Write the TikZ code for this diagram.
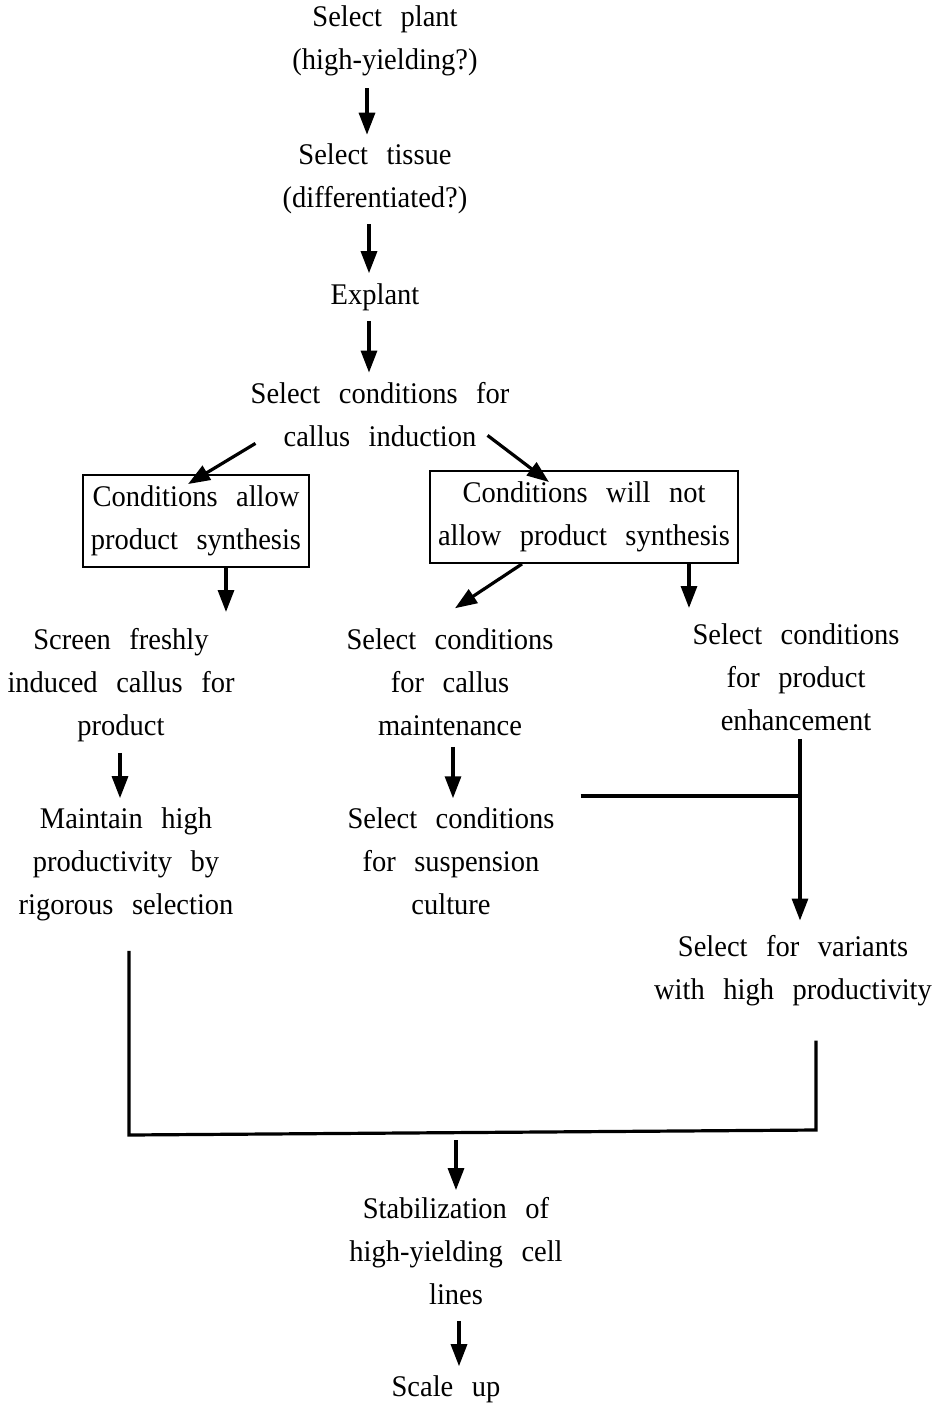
\documentclass[tikz,border=0pt]{standalone}
\usepackage{fontspec}
\setmainfont{Liberation Serif}[FakeStretch=0.95,WordSpace=2.6]
\usetikzlibrary{arrows.meta}
\tikzset{
  txt/.style={align=center, inner sep=0pt, font=\fontsize{30}{43}\selectfont},
  boxed/.style={txt, draw, line width=1.6pt, inner xsep=8pt, inner ysep=11pt},
  conn/.style={line width=3.2pt},
  arr/.style={conn, -{Triangle[length=22pt,width=16pt]}},
}
\begin{document}
\begin{tikzpicture}[x=1pt, y=-1pt]
  \useasboundingbox (0,0) rectangle (939,1403);
  %
  \node[txt] (plant)    at (385,41)   {Select plant\\(high-yielding?)};          % top column
  \node[txt] (tissue)   at (375,179)  {Select tissue\\(differentiated?)};
  \node[txt] (explant)  at (375,297)  {Explant};
  \node[txt] (induct)   at (380,415)  {Select conditions for\\callus induction};
  %
  \node[boxed] (allow)    at (196,521) {Conditions allow\\product synthesis};     % boxes
  \node[boxed] (notallow) at (584,517) {Conditions will not\\allow product synthesis};
  %
  \node[txt] (screen)   at (121,685)  {Screen freshly\\induced callus for\\product};   % left
  \node[txt] (rigor)    at (126,864)  {Maintain high\\productivity by\\rigorous selection};
  %
  \node[txt] (maint)    at (450,682)  {Select conditions\\for callus\\maintenance};   % middle
  \node[txt] (susp)     at (451,861)  {Select conditions\\for suspension\\culture};
  %
  \node[txt] (enhance)  at (796,677)  {Select conditions\\for product\\enhancement};  % right
  \node[txt] (variants) at (793,971)  {Select for variants\\with high productivity};
  %
  \node[txt] (stab)     at (456,1251) {Stabilization of\\high-yielding cell\\lines};  % bottom
  \node[txt] (scale)    at (446,1389) {Scale up};
  %
  \coordinate (junc) at (800,796);
  \coordinate (bl)   at (129,1135);
  \coordinate (br)   at (816,1130);
  %
  \draw[arr] ([yshift=-12pt]plant.south -| 367,0) -- ([yshift=9pt]tissue.north -| 367,0);
  \draw[arr] ([yshift=-10pt]tissue.south -| 369,0) -- ([yshift=10pt]explant.north -| 369,0);
  \draw[arr] ([yshift=-10pt]explant.south -| 369,0) -- ([yshift=10pt]induct.north -| 369,0);
  \draw[arr] ([shift={(5,-4)}]induct.south west) -- ([shift={(-8,10)}]allow.north);
  \draw[arr] ([shift={(-22,-12)}]induct.south east) -- ([shift={(-35,12)}]notallow.north);
  %
  \draw[arr] (allow.south -| 226,0) -- (226,612);
  \draw[arr] ([xshift=-62pt]notallow.south) -- ([shift={(5,-20)}]maint.north);
  \draw[arr] (notallow.south -| 689,0) -- (689,608);
  %
  \draw[arr] ([yshift=-11pt]screen.south -| 120,0) -- ([yshift=9pt]rigor.north -| 120,0);
  \draw[arr] ([yshift=-11pt]maint.south -| 453,0) -- ([yshift=9pt]susp.north -| 453,0);
  %
  \draw[conn] ([yshift=-8pt]enhance.south -| junc) -- (junc);        % join to variants
  \draw[conn] ([xshift=26pt]susp.north east |- junc) -- (junc);
  \draw[arr] (junc) -- ([yshift=15pt]variants.north -| junc);
  %
  \draw[conn] ([yshift=-30pt]rigor.south -| bl) -- (bl) -- (br)      % bracket
              -- ([yshift=-34pt]variants.south -| br);
  \draw[arr] (456,1140) -- ([yshift=7pt]stab.north -| 456,0);
  \draw[arr] ([yshift=-16pt]stab.south -| 459,0) -- ([yshift=9pt]scale.north -| 459,0);
\end{tikzpicture}
\end{document}
